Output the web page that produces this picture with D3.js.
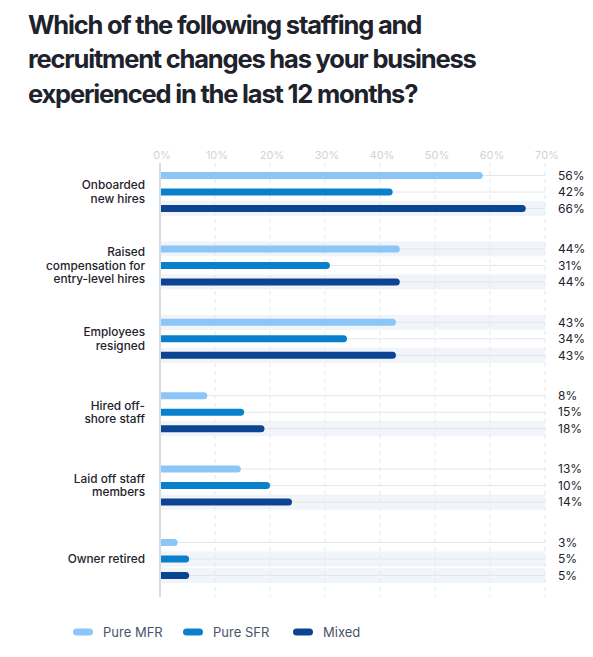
<!DOCTYPE html>
<html>
<head>
<meta charset="utf-8">
<script src="https://cdn.jsdelivr.net/npm/d3@7"></script>
<style>
  body { margin: 0; background: #fff; }
  svg { display: block; font-family: Inter, "Noto Sans", sans-serif; }
</style>
</head>
<body>
<svg id="chart"></svg>
<script>
//Data
const titleLines = ["Which of the following staffing and", "recruitment changes has your business", "experienced in the last 12 months?"];
const categories = ["Onboarded new hires", "Raised compensation for entry-level hires", "Employees resigned", "Hired off-shore staff", "Laid off staff members", "Owner retired"];
const categoryLines = [["Onboarded", "new hires"], ["Raised", "compensation for", "entry-level hires"], ["Employees", "resigned"], ["Hired off-", "shore staff"], ["Laid off staff", "members"], ["Owner retired"]];
const series = ["Pure MFR", "Pure SFR", "Mixed"];
// bar lengths as drawn
const pureMFR = [58.7, 43.6, 42.9, 8.6, 14.7, 3.2];
const pureSFR = [42.3, 30.9, 34.0, 15.3, 20.0, 5.3];
const mixed   = [66.5, 43.6, 42.9, 19.0, 24.0, 5.3];
// printed value labels
const labelMFR = ["56%", "44%", "43%", "8%", "13%", "3%"];
const labelSFR = ["42%", "31%", "34%", "15%", "10%", "5%"];
const labelMixed = ["66%", "44%", "43%", "18%", "14%", "5%"];
// rows shown with a shaded band
const bandMFR = [false, true, true, false, false, false];
const bandSFR = [false, false, false, false, false, true];
const bandMixed = [true, true, true, true, true, true];
const ticks = [0, 10, 20, 30, 40, 50, 60, 70];

const colors = ["#8cc6f9", "#0a80cd", "#0b4591"];

const width = 593, height = 657;
const svg = d3.select("#chart").attr("width", width).attr("height", height);

//Title
svg.append("g").selectAll("text")
  .data(titleLines)
  .enter().append("text")
  .attr("x", 28)
  .attr("y", (d, i) => 34 + i * 34.3)
  .attr("fill", "#1d222c")
  .attr("font-size", 25.5)
  .attr("font-weight", 650)
  .attr("letter-spacing", -1.2)
  .text(d => d);

//Scales
const x = d3.scaleLinear().domain([0, 70]).range([160, 545]);
const yGroup = d3.scalePoint().domain(categories).range([192, 559]);
const yInner = d3.scalePoint().domain(series).range([-16.5, 16.5]);

const rows = [];
categories.forEach((c, i) => {
  [pureMFR, pureSFR, mixed].forEach((vals, j) => {
    rows.push({
      cat: c, s: series[j], value: vals[i],
      label: [labelMFR, labelSFR, labelMixed][j][i],
      band: [bandMFR, bandSFR, bandMixed][j][i],
      color: colors[j]
    });
  });
});
const rowY = d => yGroup(d.cat) + yInner(d.s);

//Bands and row lines
svg.append("g").selectAll("rect")
  .data(rows.filter(d => d.band))
  .enter().append("rect")
  .attr("x", x(0))
  .attr("width", x(70) - x(0))
  .attr("y", d => rowY(d) - 7.5)
  .attr("height", 15)
  .attr("fill", "#f1f4f8");

svg.append("g").selectAll("line")
  .data(rows)
  .enter().append("line")
  .attr("x1", x(0)).attr("x2", x(70))
  .attr("y1", d => rowY(d)).attr("y2", d => rowY(d))
  .attr("stroke", "#e3e6ea")
  .attr("stroke-width", 1);

//Grid
const yTop = 163, yBottom = 597;
svg.append("g").selectAll("line")
  .data(ticks.slice(1))
  .enter().append("line")
  .attr("x1", d => x(d)).attr("x2", d => x(d))
  .attr("y1", yTop).attr("y2", yBottom)
  .attr("stroke", "#e3e6ea")
  .attr("stroke-dasharray", "4,4");

svg.append("g").selectAll("text")
  .data(ticks)
  .enter().append("text")
  .attr("x", d => x(d) + 2)
  .attr("y", 159)
  .attr("text-anchor", "middle")
  .attr("fill", "#cfd3d9")
  .attr("font-size", 11)
  .text(d => d + "%");

//Bars, round right end
const h = 7, r = 3.5;
svg.append("g").selectAll("path")
  .data(rows)
  .enter().append("path")
  .attr("d", d => {
    const x0 = x(0), x1 = x(d.value), y = rowY(d);
    return `M${x0},${y - h / 2}H${x1 - r}A${r},${r} 0 0 1 ${x1 - r},${y + h / 2}H${x0}Z`;
  })
  .attr("fill", d => d.color);

//Axis line
svg.append("line")
  .attr("x1", x(0)).attr("x2", x(0))
  .attr("y1", yTop).attr("y2", yBottom)
  .attr("stroke", "#d8dbe0")
  .attr("stroke-width", 2);

//Value labels
svg.append("g").selectAll("text")
  .data(rows)
  .enter().append("text")
  .attr("x", 558)
  .attr("y", d => rowY(d))
  .attr("dy", "0.35em")
  .attr("fill", "#1d222c")
  .attr("font-size", 12)
  .text(d => d.label);

//Category labels
const catG = svg.append("g").selectAll("text")
  .data(categories)
  .enter().append("text")
  .attr("text-anchor", "end")
  .attr("fill", "#1d222c")
  .attr("font-size", 11.8)
  .attr("font-weight", 500);
catG.each(function(d, i) {
  const lines = categoryLines[i];
  const lh = 13.5;
  const c = yGroup(d);
  d3.select(this).selectAll("tspan")
    .data(lines)
    .enter().append("tspan")
    .attr("x", 145)
    .attr("y", (l, k) => c + (k - (lines.length - 1) / 2) * lh)
    .attr("dy", "0.35em")
    .text(l => l);
});

//Legend
const legend = svg.append("g").selectAll("g")
  .data(series)
  .enter().append("g")
  .attr("transform", (d, i) => `translate(${73 + i * 110},632)`);
legend.append("rect")
  .attr("x", 0).attr("y", -3.5)
  .attr("width", 20).attr("height", 7)
  .attr("rx", 3.5)
  .attr("fill", (d, i) => colors[i]);
legend.append("text")
  .attr("x", 30)
  .attr("dy", "0.35em")
  .attr("fill", "#4a5468")
  .attr("font-size", 13)
  .text(d => d);
</script>
</body>
</html>
